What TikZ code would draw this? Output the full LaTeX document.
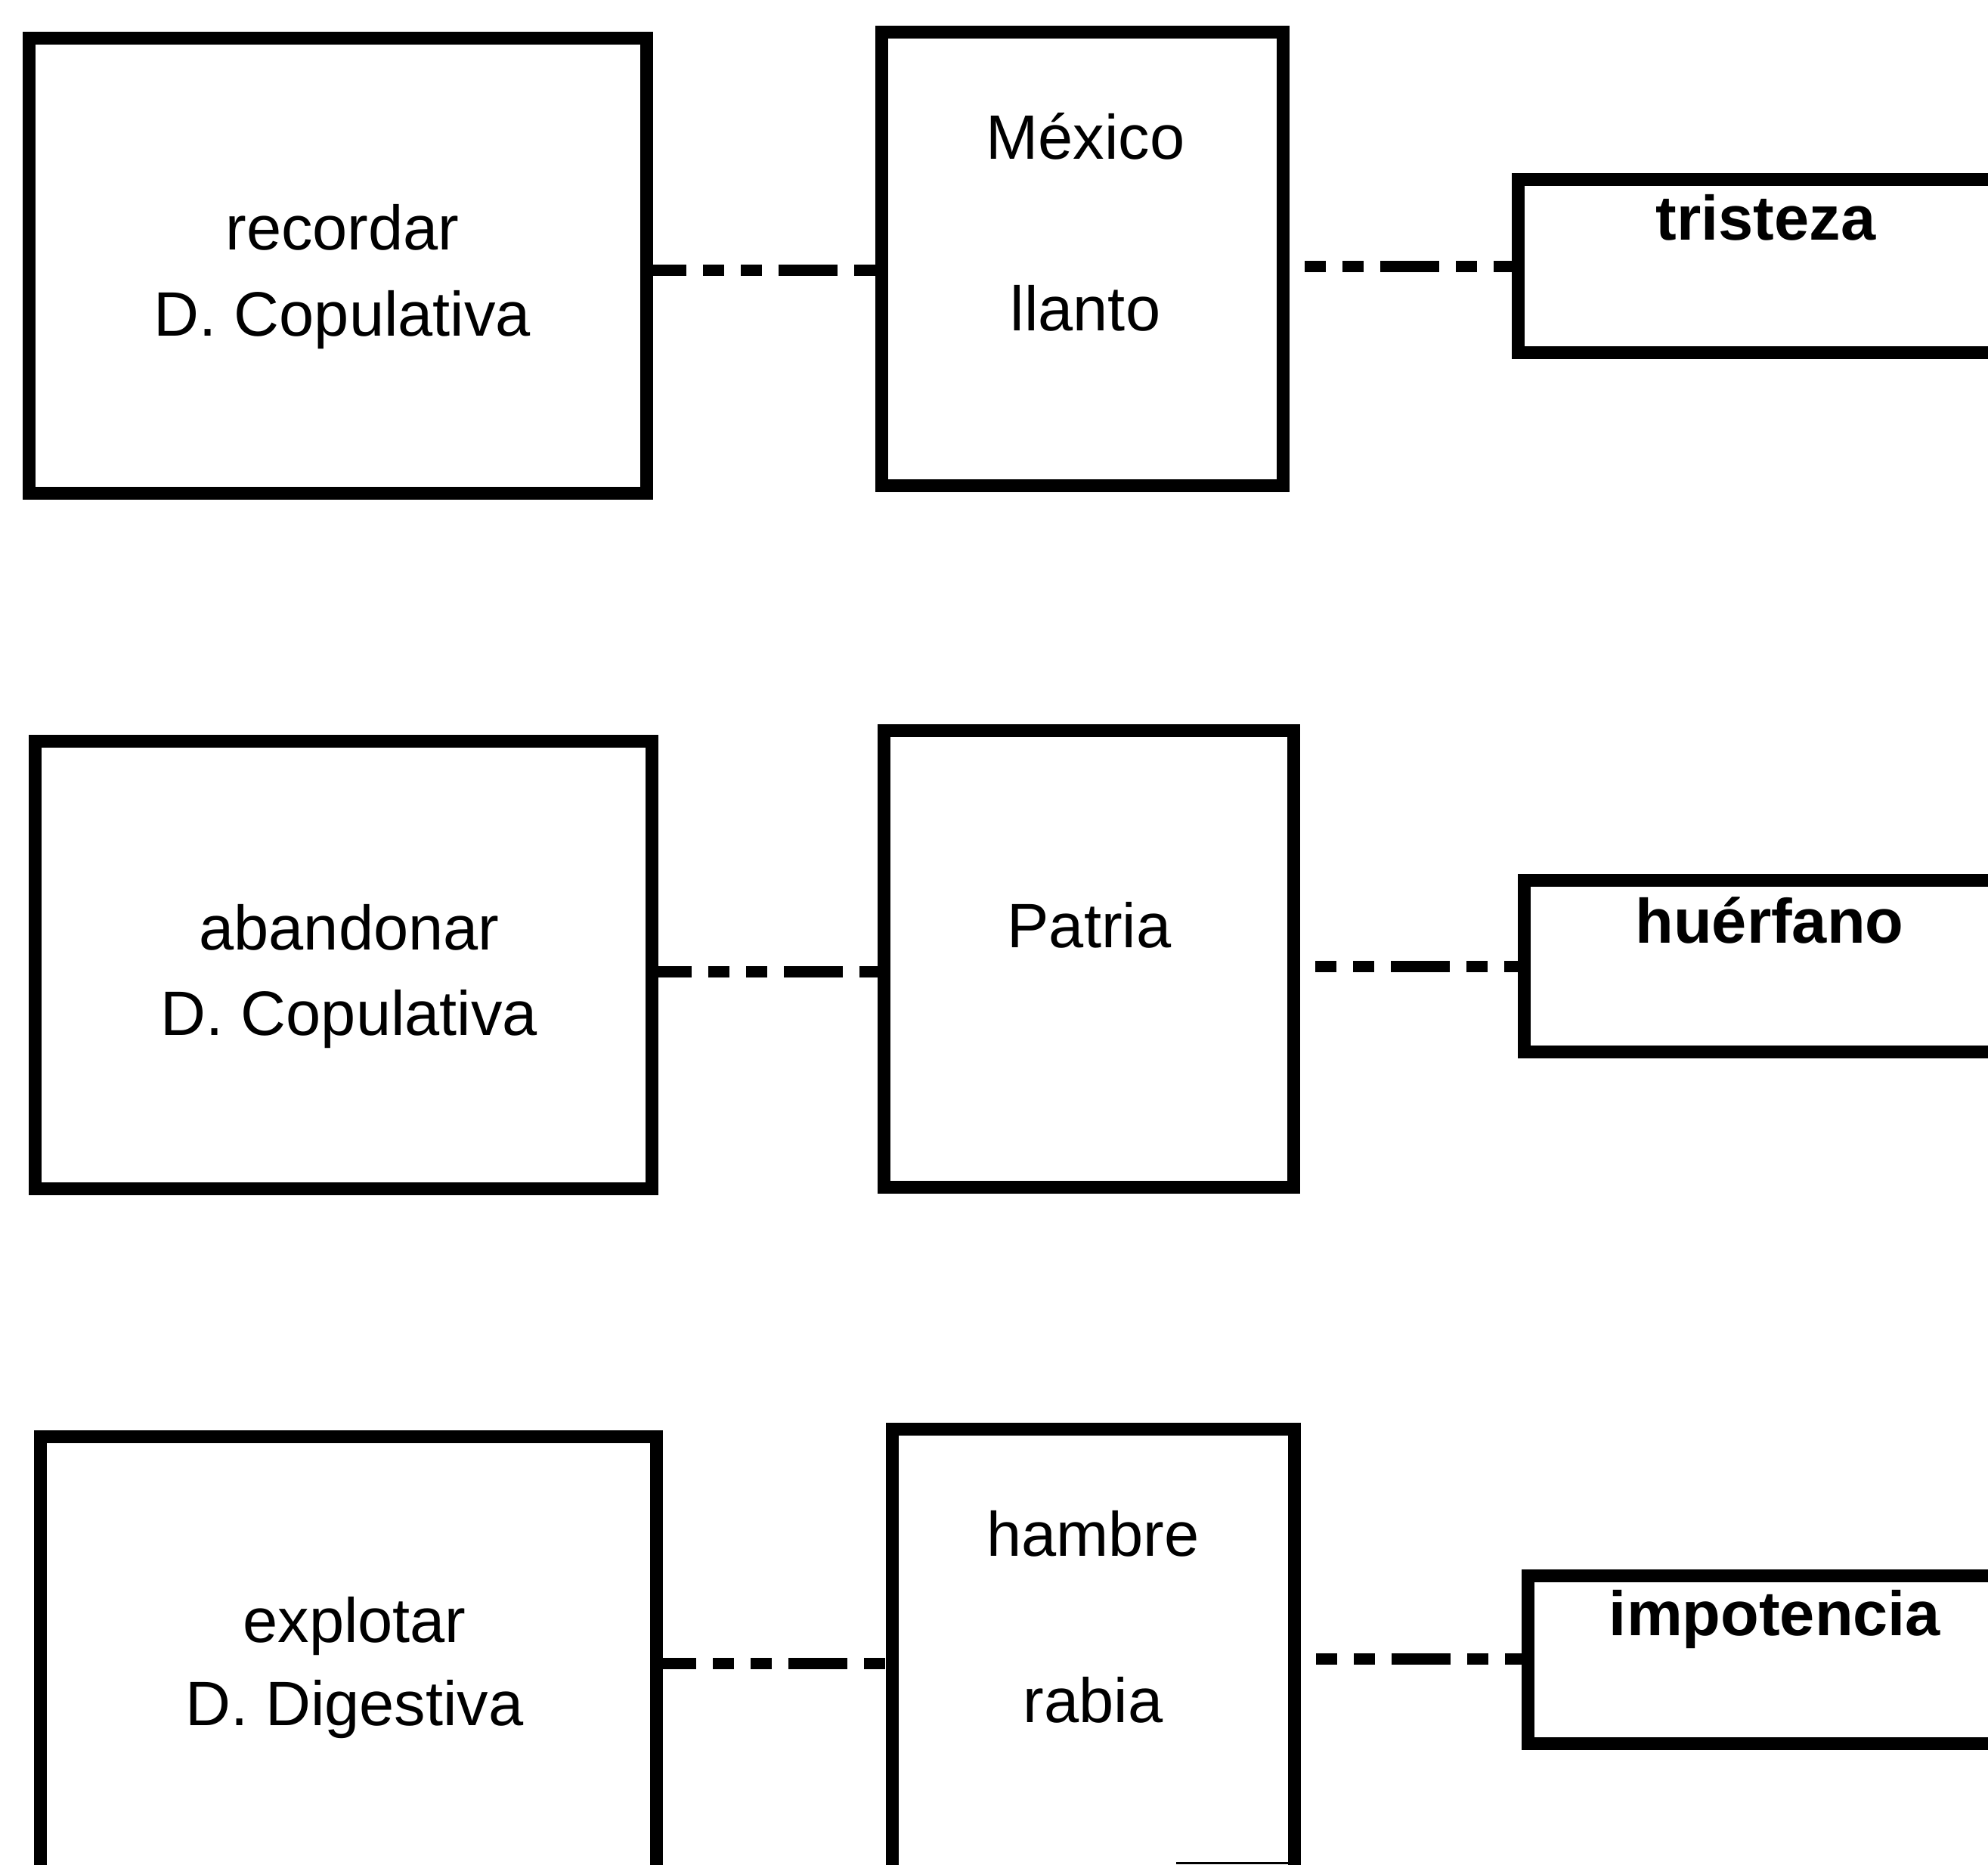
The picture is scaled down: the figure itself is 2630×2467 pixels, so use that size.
\documentclass[tikz,border=0pt]{standalone}
\usepackage{fontspec}
\setmainfont{Liberation Sans}
\usetikzlibrary{fit}
\begin{document}
\begin{tikzpicture}[x=0.2pt,y=-0.2pt,
  box/.style={draw=black, line width=3.4pt, inner sep=0pt, outer sep=0pt, rectangle},
  txt/.style={anchor=base, inner sep=0pt, font=\fontsize{16.6}{20}\selectfont},
  kw/.style={anchor=base, inner sep=0pt, font=\fontsize{16.6}{20}\selectfont\bfseries},
  link/.style={line width=3pt, line cap=butt,
    dash pattern=on 15.6pt off 4.4pt on 5.6pt off 4.4pt on 5.6pt off 4.4pt},
  linkL/.style={link, dash phase=5pt},
  linkR/.style={link, dash phase=14.2pt}]
\clip (0,0) rectangle (2630,2467);
\fill[white] (0,0) rectangle (2630,2467);

% first row
\node[box, fit={(38,50) (855,652)}] (b1) {};
\node[box, fit={(1166,42) (1697,642)}] (b2) {};
\node[box, fit={(2008,237) (2664,466)}] (b3) {};
\node[txt] (t1a) at (453,330) {recordar};
\node[txt] (t1b) at (453,444) {D. Copulativa};
\node[txt] (t2a) at (1436,210) {México};
\node[txt] (t2b) at (1436,437) {llanto};
\node[kw] (t3) at (2336,317) {tristeza};
\draw[linkL] (b1.east |- 0,357) -- (b2.west |- 0,357);
\draw[linkR] (b2.east |- 0,352) -- (b3.west |- 0,352);

% second row
\node[box, fit={(46,980) (862,1572)}] (b4) {};
\node[box, fit={(1169,966) (1711,1570)}] (b5) {};
\node[box, fit={(2016,1164) (2670,1391)}] (b6) {};
\node[txt] (t4a) at (462,1256) {abandonar};
\node[txt] (t4b) at (462,1369) {D. Copulativa};
\node[txt] (t5) at (1441,1253) {Patria};
\node[kw] (t6) at (2341,1247) {huérfano};
\draw[linkL] (b4.east |- 0,1285) -- (b5.west |- 0,1285);
\draw[linkR] (b5.east |- 0,1278) -- (b6.west |- 0,1278);

% third row
\node[box, fit={(53,1900) (868,2620)}] (b7) {};
\node[box, fit={(1180,1890) (1712,2620)}] (b8) {};
\node[box, fit={(2021,2084) (2675,2306)}] (b9) {};
\node[txt] (t7a) at (469,2172) {explotar};
\node[txt] (t7b) at (469,2282) {D. Digestiva};
\node[txt] (t8a) at (1446,2058) {hambre};
\node[txt] (t8b) at (1446,2278) {rabia};
\node[kw] (t9) at (2348,2163) {impotencia};
\draw[linkL] (b7.east |- 0,2200) -- (b8.west |- 0,2200);
\draw[linkR] (b8.east |- 0,2194) -- (b9.west |- 0,2194);

% rule along the lower edge inside the last middle box
\coordinate (r1) at (1556,2464);
\draw[line width=0.6pt] (r1) -- (b8.east |- r1);
\end{tikzpicture}
\end{document}
